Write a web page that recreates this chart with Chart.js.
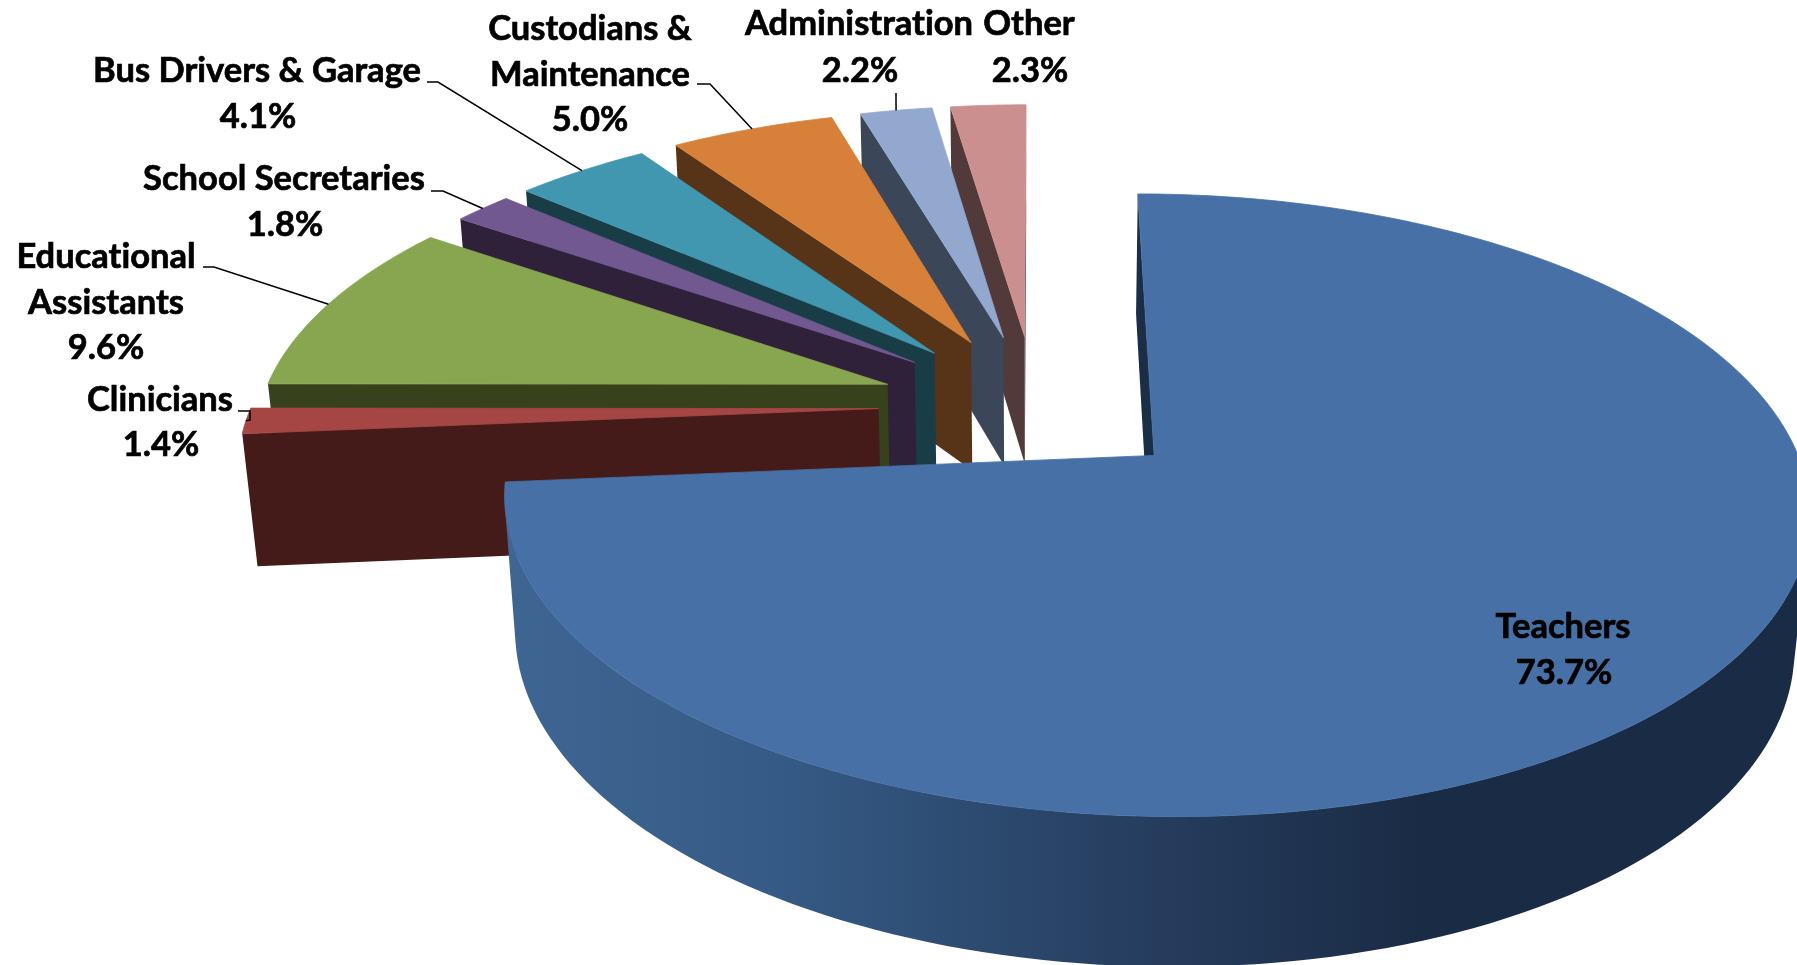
<!DOCTYPE html>
<html>
<head>
<meta charset="utf-8">
<title>Staff shares</title>
<script src="https://cdn.jsdelivr.net/npm/chart.js@4/dist/chart.umd.min.js"></script>
<style>
    html, body { margin: 0; padding: 0; background: #fff; }
    #box { width: 1797px; height: 965px; position: relative; }
</style>
</head>
<body>
<div id="box"><canvas id="pie"></canvas></div>
<script>
// Chart data
const categories = ['Teachers', 'Clinicians', 'Educational Assistants', 'School Secretaries',
    'Bus Drivers & Garage', 'Custodians & Maintenance', 'Administration', 'Other'];
const shares = [73.7, 1.4, 9.6, 1.8, 4.1, 5.0, 2.2, 2.3];
const shareLabels = ['73.7%', '1.4%', '9.6%', '1.8%', '4.1%', '5.0%', '2.2%', '2.3%'];

// Slice colours
const topColors = ['#4670A6', '#A54644', '#88A54F', '#725890', '#4197AF', '#D6803A', '#92A8CF', '#CC8F8F'];
const sideColors = ['#1B2E47', '#451B19', '#37411C', '#2E2139', '#193D46', '#573317', '#3C4659', '#533A3A'];

// Where the text sits: [centre x, baseline y, text], the share text is the last line of each slice
const nameLines = [
    [[1563, 638, 'Teachers']],
    [[160, 411, 'Clinicians']],
    [[106, 268, 'Educational'], [106, 314, 'Assistants']],
    [[284, 190, 'School Secretaries']],
    [[257, 82, 'Bus Drivers & Garage']],
    [[590, 40, 'Custodians &'], [590, 86, 'Maintenance']],
    [[859, 35, 'Administration']],
    [[1029, 35, 'Other']]
];
const shareSpots = [[1564, 684], [161, 456], [106, 359], [285, 236], [258, 128], [590, 131], [860, 82], [1030, 82]];

// Leader line start points, the last point comes from the slice itself
const leaders = [
    null,
    [[238, 411], [250, 411], [250, 420]],
    [[203, 267], [214, 267]],
    [[431, 191], [443, 191]],
    [[427, 82], [438, 82]],
    [[697, 84], [710, 84]],
    [[896, 93]],
    null
];

// Camera used to tip the flat pie over
const tilt = 27.3 * Math.PI / 180;
const camDist = 5.7;
const focal = 627 * camDist;
const explode = 0.25;
const thickness = 0.24;

// Flat pie point (u, v, z in radius units) to canvas position
function project(arc, u, v, z) {
    const w = camDist + v * Math.cos(tilt) - z * Math.sin(tilt);
    return {
        x: arc.x + focal * u / w,
        y: arc.y - focal * (v * Math.sin(tilt) + z * Math.cos(tilt)) / w
    };
}

function slicePoint(arc, angle, r, z) {
    const mid = (arc.startAngle + arc.endAngle) / 2;
    const u = r * Math.cos(angle) + explode * Math.cos(mid);
    const v = -r * Math.sin(angle) - explode * Math.sin(mid);
    return project(arc, u, v, z);
}

function area(points) {
    let sum = 0;
    points.forEach((p, i) => {
        const q = points[(i + 1) % points.length];
        sum += p.x * q.y - q.x * p.y;
    });
    return sum / 2;
}

function fillPoly(ctx, points, fill) {
    ctx.beginPath();
    points.forEach((p, i) => i ? ctx.lineTo(p.x, p.y) : ctx.moveTo(p.x, p.y));
    ctx.closePath();
    ctx.fillStyle = fill;
    ctx.fill();
}

function teacherWall(ctx) {
    const g = ctx.createLinearGradient(507, 0, 1420, 0);
    g.addColorStop(0, '#3F6693');
    g.addColorStop(0.3, '#355A85');
    g.addColorStop(0.69, '#263E5F');
    g.addColorStop(1, '#1A2B45');
    return g;
}

function drawSlice(ctx, arc, index) {
    const side = sideColors[index];
    const a0 = arc.startAngle;
    const a1 = arc.endAngle;

    // Outer wall, only the part that faces the camera
    const steps = Math.max(2, Math.ceil((a1 - a0) / (Math.PI / 120)));
    const upper = [];
    const lower = [];
    for (let i = 0; i < steps; i++) {
        const s = a0 + (a1 - a0) * i / steps;
        const e = a0 + (a1 - a0) * (i + 1) / steps;
        const quad = [slicePoint(arc, s, 1, 0), slicePoint(arc, e, 1, 0),
            slicePoint(arc, e, 1, -thickness), slicePoint(arc, s, 1, -thickness)];
        if (area(quad) < 0) {
            if (!upper.length) {
                upper.push(quad[0]);
                lower.push(quad[3]);
            }
            upper.push(quad[1]);
            lower.push(quad[2]);
        }
    }
    if (upper.length) {
        fillPoly(ctx, upper.concat(lower.reverse()), index === 0 ? teacherWall(ctx) : side);
    }

    // The two cut faces
    const faceA = [slicePoint(arc, a0, 0, 0), slicePoint(arc, a0, 1, 0),
        slicePoint(arc, a0, 1, -thickness), slicePoint(arc, a0, 0, -thickness)];
    const faceB = [slicePoint(arc, a1, 1, 0), slicePoint(arc, a1, 0, 0),
        slicePoint(arc, a1, 0, -thickness), slicePoint(arc, a1, 1, -thickness)];
    if (area(faceA) < 0) fillPoly(ctx, faceA, side);
    if (area(faceB) < 0) fillPoly(ctx, faceB, side);

    // Top of the slice, the thin stroke closes the seam against the wall
    const top = [slicePoint(arc, a0, 0, 0)];
    const topSteps = Math.max(4, Math.ceil((a1 - a0) / (Math.PI / 180)));
    for (let i = 0; i <= topSteps; i++) {
        top.push(slicePoint(arc, a0 + (a1 - a0) * i / topSteps, 1, 0));
    }
    fillPoly(ctx, top, arc.options.backgroundColor);
    ctx.strokeStyle = arc.options.backgroundColor;
    ctx.lineWidth = 0.8;
    ctx.stroke();
}

function putText(ctx, text, x, y) {
    ctx.strokeText(text, x, y);
    ctx.fillText(text, x, y);
}

const pie3d = {
    id: 'pie3d',
    beforeDatasetDraw(chart, args) {
        const ctx = chart.ctx;
        const arcs = args.meta.data;
        const depth = arc => -Math.sin((arc.startAngle + arc.endAngle) / 2);
        const order = arcs.map((arc, i) => i).sort((p, q) => depth(arcs[q]) - depth(arcs[p]));

        ctx.save();
        order.forEach(i => drawSlice(ctx, arcs[i], i));

        // Leader lines
        ctx.strokeStyle = '#000';
        ctx.lineWidth = 1.5;
        leaders.forEach((points, i) => {
            if (!points) return;
            const arc = arcs[i];
            const end = slicePoint(arc, (arc.startAngle + arc.endAngle) / 2, 1, 0);
            ctx.beginPath();
            points.forEach((p, k) => k ? ctx.lineTo(p[0], p[1]) : ctx.moveTo(p[0], p[1]));
            ctx.lineTo(end.x, end.y);
            ctx.stroke();
        });

        // Labels
        ctx.fillStyle = '#000';
        ctx.lineWidth = 0.7;
        ctx.font = 'bold 34.5px Lato';
        ctx.letterSpacing = '0.01px'; // keeps Lato from joining "ti"
        ctx.textAlign = 'center';
        ctx.textBaseline = 'alphabetic';
        nameLines.forEach((lines, i) => {
            lines.forEach(line => putText(ctx, line[2], line[0], line[1]));
            putText(ctx, shareLabels[i], shareSpots[i][0], shareSpots[i][1]);
        });
        ctx.restore();
        return false; // the default flat arcs are not wanted
    }
};

new Chart(document.getElementById('pie').getContext('2d'), {
    type: 'pie',
    data: {
        labels: categories,
        datasets: [{
            data: shares,
            backgroundColor: topColors,
            borderWidth: 0
        }]
    },
    options: {
        responsive: true,
        maintainAspectRatio: false,
        animation: false,
        rotation: 0,
        layout: { padding: { left: 274, right: 0, top: 0, bottom: 154 } },
        plugins: { legend: { display: false }, tooltip: { enabled: false } }
    },
    plugins: [pie3d]
});
</script>
</body>
</html>
